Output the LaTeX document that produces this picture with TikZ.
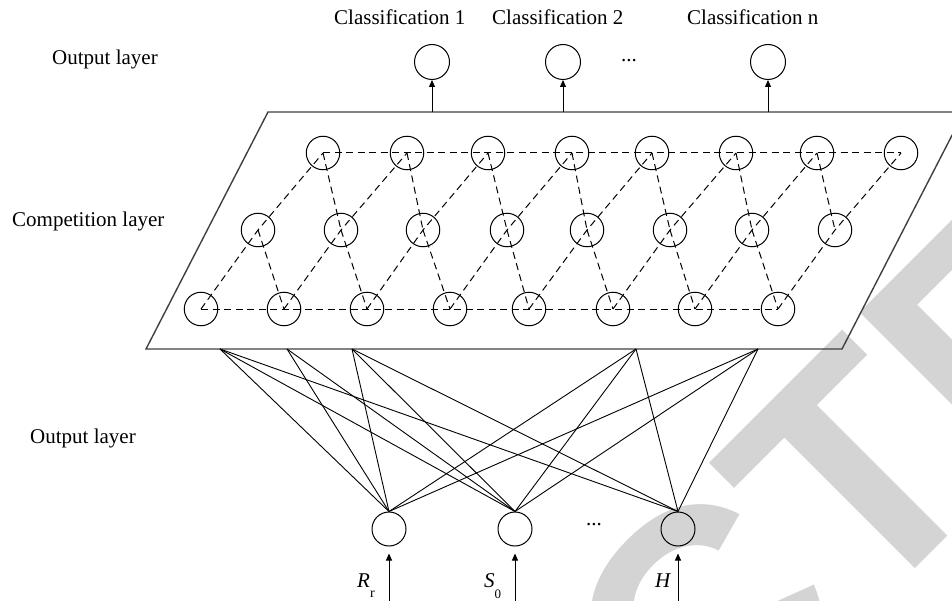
\documentclass[tikz,border=0pt]{standalone}
\usepackage{fontspec}
\setmainfont{Liberation Serif}
\newfontfamily\wmfont{Liberation Sans}
\usetikzlibrary{arrows.meta}
\begin{document}
\begin{tikzpicture}[x=1bp,y=-1bp,
  lbl/.style={font=\fontsize{21bp}{25bp}\selectfont, inner sep=0pt},
  neuron/.style={draw, circle, line width=1bp, minimum size=33.5bp, inner sep=0pt},
  outn/.style={draw, circle, line width=1bp, minimum size=35bp, inner sep=0pt},
  dsh/.style={dash pattern=on 7bp off 4.5bp, line width=1bp},
  link/.style={line width=0.9bp},
  arr/.style={line width=1bp, -{Triangle[length=7bp,width=6bp]}},
  frame/.style={draw=black!75, line width=1.4bp}
]
\useasboundingbox (0,0) rectangle (952,601);

% watermark
\node[rotate=45, anchor=base west, text=black!17, inner sep=0pt,
      font=\wmfont\bfseries\fontsize{320bp}{320bp}\selectfont] (wm) at (699,785) {\llap{RETRA}CTED};

% competition plane
\draw[frame] (268,112) -- (964,112) -- (842,349) -- (146,349) -- cycle;

% output layer (top)
\node[outn] (o1) at (432,62) {};
\node[outn] (o2) at (563,62) {};
\node[outn] (o3) at (768,62) {};
\node[lbl] (od) at (629,61) {...};
\node[lbl, anchor=base west] (c1) at (334,25) {Classification 1};
\node[lbl, anchor=base west] (c2) at (492,25) {Classification 2};
\node[lbl, anchor=base west] (c3) at (687,25) {Classification n};
\coordinate (p1) at (432,112);
\coordinate (p2) at (563,112);
\coordinate (p3) at (768,112);
\draw[arr] (p1) -- (o1.south);
\draw[arr] (p2) -- (o2.south);
\draw[arr] (p3) -- (o3.south);

% left labels
\node[lbl, anchor=base west] (l1) at (52,65) {Output layer};
\node[lbl, anchor=base west] (l2) at (12,227) {Competition layer};
\node[lbl, anchor=base west] (l3) at (30,443) {Output layer};

% competition neurons
\foreach \i/\x in {1/323,2/407,3/488,4/572,5/652,6/736,7/817,8/901}
  \node[neuron] (t\i) at (\x,153) {};
\foreach \i/\x in {1/258,2/341,3/423,4/507,5/587,6/670,7/752,8/835}
  \node[neuron] (m\i) at (\x,230) {};
\foreach \i/\x in {1/201,2/284,3/367,4/450,5/529,6/613,7/695,8/778}
  \node[neuron] (b\i) at (\x,309) {};

\draw[dsh] (t1.center) -- (t8.center);
\draw[dsh] (b1.center) -- (b8.center);
\foreach \i in {1,...,8}
  \draw[dsh] (b\i.center) -- (m\i.center) -- (t\i.center);
\foreach \i/\j in {1/2,2/3,3/4,4/5,5/6,6/7,7/8}{
  \draw[dsh] (t\i.center) -- (m\j.center);
  \draw[dsh] (m\i.center) -- (b\j.center);
}

% input neurons
\node[neuron, minimum size=34bp] (i1) at (389,529) {};
\node[neuron, minimum size=34bp] (i2) at (515,529) {};
\node[neuron, minimum size=34bp] (i3) at (678,529) {};
\node[lbl] (id) at (594,525) {...};

% connections
\coordinate (a1) at (220,349);
\coordinate (a2) at (287,349);
\coordinate (a3) at (352,349);
\coordinate (a4) at (636,349);
\coordinate (a5) at (758,349);
\foreach \a/\i in {1/1,1/2,1/3,2/1,2/2,3/1,3/2,3/3,4/1,4/2,4/3,5/1,5/2,5/3}
  \draw[link] (a\a) -- (i\i.north);

% input arrows
\coordinate (q1) at (389,601);
\coordinate (q2) at (515,601);
\coordinate (q3) at (678,601);
\draw[arr, shorten >=7bp] (q1) -- (i1.south);
\draw[arr, shorten >=7bp] (q2) -- (i2.south);
\draw[arr, shorten >=7bp] (q3) -- (i3.south);

\node[lbl, anchor=base west] (rr) at (357,587) {\textit{R}\raisebox{-10bp}{\fontsize{14bp}{14bp}\selectfont r}};
\node[lbl, anchor=base west] (s0) at (484,587) {\textit{S}\raisebox{-11bp}{\fontsize{13bp}{13bp}\selectfont 0}};
\node[lbl, anchor=base west] (hh) at (655,587) {\textit{H}};
\end{tikzpicture}
\end{document}
